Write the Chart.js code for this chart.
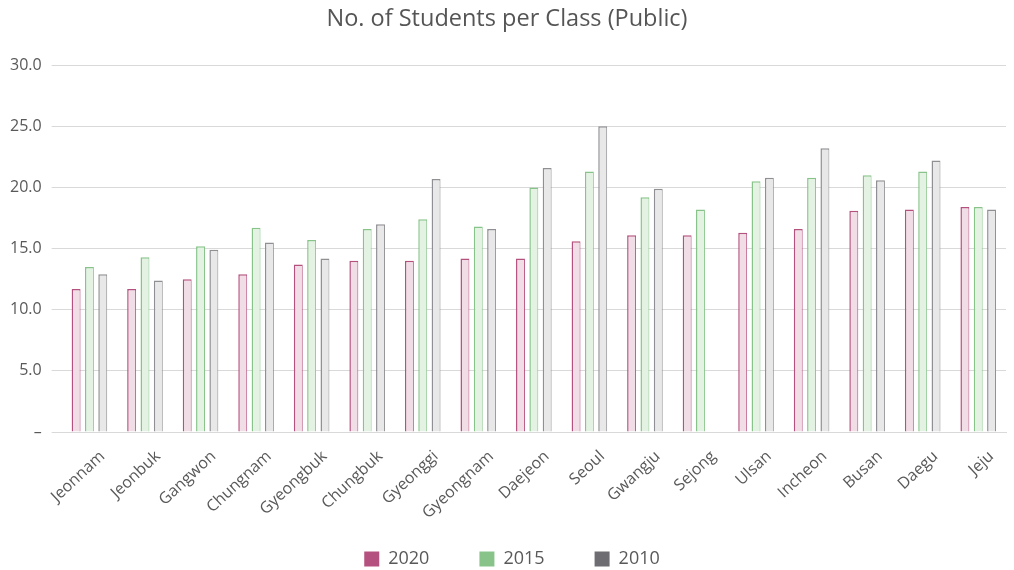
<!DOCTYPE html>
<html lang="en">
<head>
    <meta charset="UTF-8">
    <title>No. of Students per Class (Public)</title>
    <script src="https://cdn.jsdelivr.net/npm/chart.js"></script>
    <style>
        html, body { margin: 0; padding: 0; background: #fff; }
        #wrap { width: 1014px; height: 570px; }
    </style>
</head>
<body>
    <div id="wrap"><canvas id="classChart"></canvas></div>

    <script>
        const regions = ['Jeonnam', 'Jeonbuk', 'Gangwon', 'Chungnam', 'Gyeongbuk', 'Chungbuk', 'Gyeonggi',
            'Gyeongnam', 'Daejeon', 'Seoul', 'Gwangju', 'Sejong', 'Ulsan', 'Incheon', 'Busan', 'Daegu', 'Jeju'];
        const students2020 = [11.7, 11.7, 12.5, 12.9, 13.7, 14.0, 14.0, 14.2, 14.2, 15.6, 16.1, 16.1, 16.3, 16.6, 18.1, 18.2, 18.4];
        const students2015 = [13.5, 14.3, 15.2, 16.7, 15.7, 16.6, 17.4, 16.8, 20.0, 21.3, 19.2, 18.2, 20.5, 20.8, 21.0, 21.3, 18.4];
        const students2010 = [12.9, 12.4, 14.9, 15.5, 14.2, 17.0, 20.7, 16.6, 21.6, 25.0, 19.9, null, 20.8, 23.2, 20.6, 22.2, 18.2];
        const yTicks = [0, 5, 10, 15, 20, 25, 30];

        const textGray = '#595959';
        const fontName = 'Open Sans';
        const barBorder = { left: 1.5, top: 1.5, right: 1, bottom: 0 };

        function series(label, data, fill, line, solid) {
            return {
                label: label,
                data: data,
                backgroundColor: fill,
                borderColor: line,
                borderWidth: barBorder,
                borderSkipped: false,
                legendColor: solid
            };
        }

        // legend keeps wide gaps between items but sits closer to the axis labels
        const legendLift = {
            id: 'legendLift',
            afterLayout(chart) {
                const lg = chart.legend;
                lg.top -= 24;
                lg.height += 24;
                lg.left += 5;
                lg.right += 5;
            }
        };

        new Chart(document.getElementById('classChart'), {
            type: 'bar',
            data: {
                labels: regions,
                datasets: [
                    series('2020', students2020, '#f0dde6', '#b5517e', '#b5517e'),
                    series('2015', students2015, '#e4f2e3', '#88c48a', '#88c48a'),
                    series('2010', students2010, '#e8e8e8', '#909094', '#6d6d72')
                ]
            },
            plugins: [legendLift],
            options: {
                responsive: true,
                maintainAspectRatio: false,
                animation: false,
                layout: { padding: { left: 8, right: 8, top: 4, bottom: 0 } },
                datasets: {
                    bar: { categoryPercentage: 0.72, barPercentage: 0.67 }
                },
                plugins: {
                    title: {
                        display: true,
                        text: 'No. of Students per Class (Public)',
                        color: '#555555',
                        font: { family: fontName, size: 23.5, weight: 'normal' },
                        padding: { top: 1, bottom: 32 }
                    },
                    legend: {
                        position: 'bottom',
                        maxHeight: 46,
                        labels: {
                            color: textGray,
                            font: { family: fontName, size: 18 },
                            boxWidth: 15,
                            boxHeight: 15,
                            padding: 50,
                            generateLabels: chart => chart.data.datasets.map((ds, i) => ({
                                text: ds.label,
                                fillStyle: ds.legendColor,
                                strokeStyle: ds.legendColor,
                                lineWidth: 0,
                                fontColor: textGray,
                                datasetIndex: i
                            }))
                        }
                    },
                    tooltip: { enabled: false }
                },
                scales: {
                    x: {
                        grid: { display: false },
                        border: { color: '#d9d9d9', width: 1 },
                        afterFit: axis => { axis.height = 92; },
                        ticks: {
                            color: textGray,
                            font: { family: fontName, size: 16 },
                            minRotation: 43,
                            maxRotation: 43,
                            padding: 7,
                            labelOffset: 13
                        }
                    },
                    y: {
                        min: 0,
                        max: 30,
                        afterBuildTicks: axis => { axis.ticks = yTicks.map(v => ({ value: v })); },
                        afterFit: axis => { axis.width -= 8; },
                        grid: { color: '#d9d9d9', tickLength: 10 },
                        border: { display: false },
                        ticks: {
                            color: textGray,
                            font: { family: fontName, size: 16 },
                            padding: 10,
                            callback: v => v === 0 ? '–' : v.toFixed(1)
                        }
                    }
                }
            }
        });
    </script>
</body>
</html>
